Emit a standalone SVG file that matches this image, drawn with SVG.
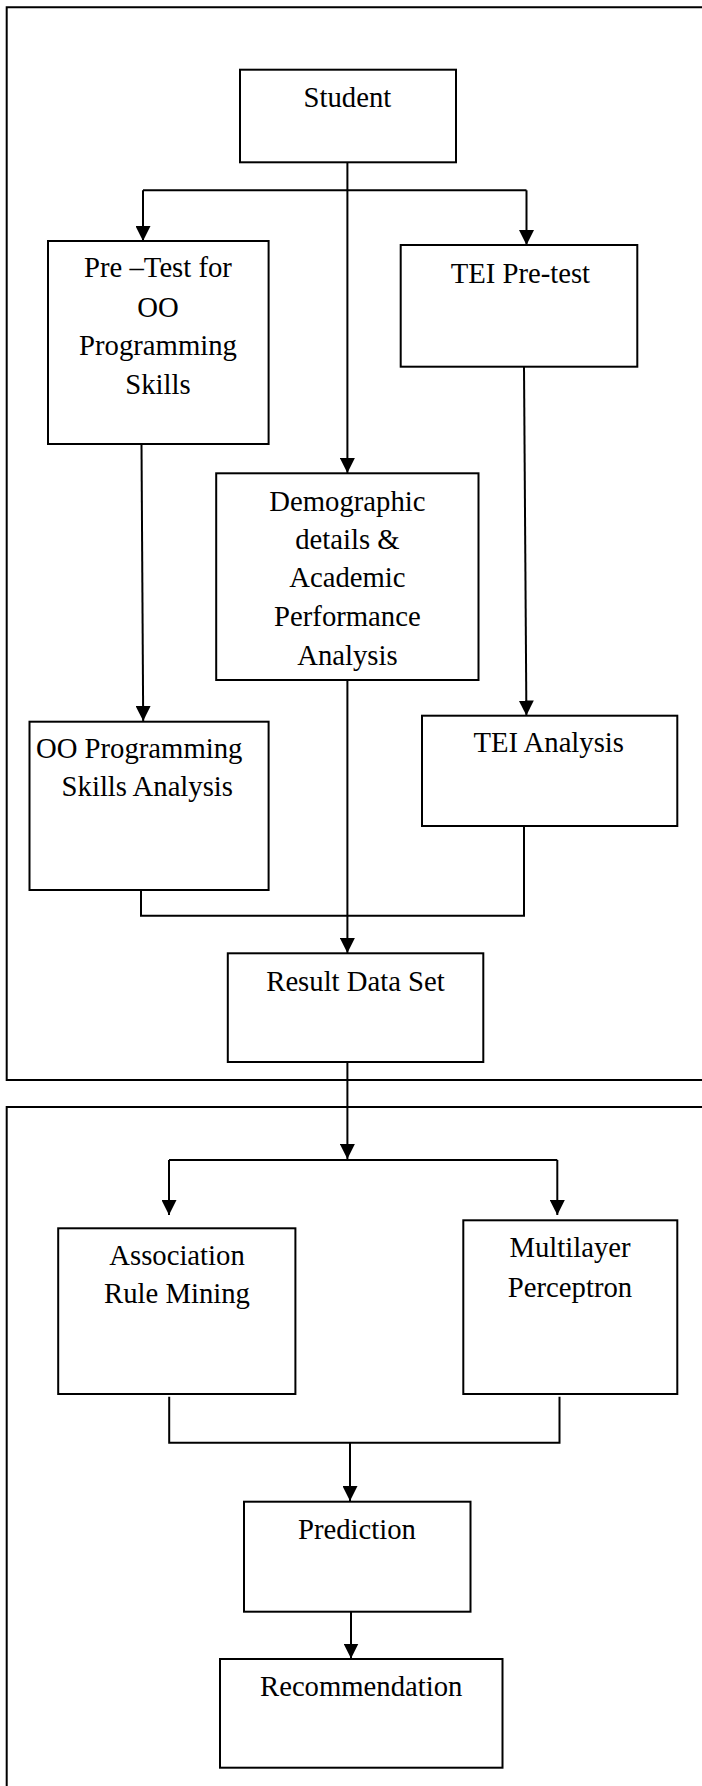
<svg xmlns="http://www.w3.org/2000/svg" width="702" height="1786" viewBox="0 0 702 1786">
<style>
.box{fill:#fff;stroke:#000;stroke-width:2}
.frame{fill:none;stroke:#000;stroke-width:2}
.c{fill:none;stroke:#000;stroke-width:2}
text{font-family:"Liberation Serif","Times New Roman",serif;font-size:28.7px;fill:#000;text-anchor:middle}
</style>
<defs>
<marker id="ah" viewBox="0 0 15 15" markerWidth="15" markerHeight="15" refX="15" refY="7.5" orient="auto" markerUnits="userSpaceOnUse">
<path d="M0,0 L15,7.5 L0,15 z" fill="#000"/>
</marker>
</defs>
<rect width="702" height="1786" fill="#fff"/>
<g id="frames">
<path class="frame" d="M702 7.3 H6.7 V1080 H702"/>
<path class="frame" d="M702 1107 H6.7 V1786"/>
</g>
<g id="connectors">
<path class="c" d="M347.4 162.3 V473" marker-end="url(#ah)"/>
<path class="c" d="M143 190.3 H526.5"/>
<path class="c" d="M143 190.3 V241" marker-end="url(#ah)"/>
<path class="c" d="M526.5 190.3 V245" marker-end="url(#ah)"/>
<path class="c" d="M141.5 444 L143.2 721" marker-end="url(#ah)"/>
<path class="c" d="M524 366.7 L526.4 715.5" marker-end="url(#ah)"/>
<path class="c" d="M141 890 V915.7 H524 V826"/>
<path class="c" d="M347.4 680 V953" marker-end="url(#ah)"/>
<path class="c" d="M347.4 1062 V1159" marker-end="url(#ah)"/>
<path class="c" d="M169 1160 H557.3"/>
<path class="c" d="M169 1160 V1215" marker-end="url(#ah)"/>
<path class="c" d="M557.3 1160 V1215" marker-end="url(#ah)"/>
<path class="c" d="M169.2 1396.7 V1442.7 H559.5 V1396.7"/>
<path class="c" d="M350 1442.7 V1501" marker-end="url(#ah)"/>
<path class="c" d="M351 1611.7 V1658.5" marker-end="url(#ah)"/>
</g>
<g id="student">
<rect class="box" x="240" y="69.7" width="216" height="92.6"/>
<text x="347.4" y="106.7">Student</text>
</g>
<g id="pretest">
<rect class="box" x="48" y="241" width="220.6" height="203"/>
<text x="158" y="277">Pre –Test for</text>
<text x="158" y="316.5">OO</text>
<text x="158" y="355">Programming</text>
<text x="158" y="394">Skills</text>
</g>
<g id="tei-pretest">
<rect class="box" x="400.7" y="245" width="236.6" height="121.7"/>
<text x="520.4" y="283.3">TEI Pre-test</text>
</g>
<g id="demographic">
<rect class="box" x="216.2" y="473.3" width="262.3" height="206.7"/>
<text x="347.4" y="510.7">Demographic</text>
<text x="347.4" y="549">details &amp;</text>
<text x="347.4" y="587.3">Academic</text>
<text x="347.4" y="625.7">Performance</text>
<text x="347.4" y="665">Analysis</text>
</g>
<g id="oo-analysis">
<rect class="box" x="29.5" y="721.7" width="239.1" height="168.3"/>
<text x="139.2" y="758.3">OO Programming</text>
<text x="147.3" y="796">Skills Analysis</text>
</g>
<g id="tei-analysis">
<rect class="box" x="422" y="715.7" width="255.3" height="110.3"/>
<text x="548.7" y="751.7">TEI Analysis</text>
</g>
<g id="result">
<rect class="box" x="227.8" y="953.3" width="255.5" height="108.7"/>
<text x="355.5" y="990.7">Result Data Set</text>
</g>
<g id="arm">
<rect class="box" x="58.2" y="1228.3" width="237.2" height="165.7"/>
<text x="177" y="1265">Association</text>
<text x="177" y="1302.7">Rule Mining</text>
</g>
<g id="mlp">
<rect class="box" x="463.3" y="1220.3" width="214" height="173.7"/>
<text x="570" y="1257.3">Multilayer</text>
<text x="570" y="1297">Perceptron</text>
</g>
<g id="prediction">
<rect class="box" x="244" y="1501.7" width="226.5" height="110"/>
<text x="357" y="1539.3">Prediction</text>
</g>
<g id="recommendation">
<rect class="box" x="220" y="1659" width="282.5" height="108.7"/>
<text x="361.2" y="1696">Recommendation</text>
</g>
</svg>
